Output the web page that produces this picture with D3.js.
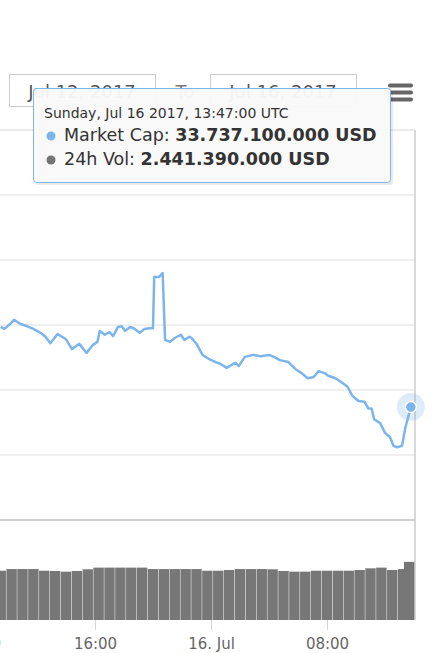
<!DOCTYPE html>
<html><head><meta charset="utf-8">
<script src="https://cdn.jsdelivr.net/npm/d3@7"></script>
<style>body{margin:0;background:#fff;overflow:hidden}svg{display:block;font-family:"DejaVu Sans",sans-serif}</style>
</head><body><svg id="c" width="435" height="653"></svg>
<script>
const capTimes=["2017-07-15 09:30","2017-07-15 09:45","2017-07-15 10:10","2017-07-15 10:25","2017-07-15 10:50","2017-07-15 11:20","2017-07-15 11:45","2017-07-15 12:15","2017-07-15 12:35","2017-07-15 12:55","2017-07-15 13:25","2017-07-15 14:00","2017-07-15 14:25","2017-07-15 14:55","2017-07-15 15:25","2017-07-15 15:50","2017-07-15 16:10","2017-07-15 16:20","2017-07-15 16:40","2017-07-15 17:00","2017-07-15 17:15","2017-07-15 17:35","2017-07-15 17:50","2017-07-15 18:05","2017-07-15 18:25","2017-07-15 18:40","2017-07-15 19:05","2017-07-15 19:25","2017-07-15 19:45","2017-07-15 20:00","2017-07-15 20:05","2017-07-15 20:25","2017-07-15 20:40","2017-07-15 20:50","2017-07-15 21:10","2017-07-15 21:30","2017-07-15 21:55","2017-07-15 22:10","2017-07-15 22:30","2017-07-15 22:40","2017-07-15 23:00","2017-07-15 23:25","2017-07-15 23:50","2017-07-16 00:20","2017-07-16 00:40","2017-07-16 01:05","2017-07-16 01:40","2017-07-16 01:55","2017-07-16 02:20","2017-07-16 02:55","2017-07-16 03:25","2017-07-16 04:00","2017-07-16 04:20","2017-07-16 04:45","2017-07-16 05:20","2017-07-16 05:50","2017-07-16 06:15","2017-07-16 06:40","2017-07-16 07:05","2017-07-16 07:25","2017-07-16 07:50","2017-07-16 08:05","2017-07-16 08:35","2017-07-16 09:00","2017-07-16 09:25","2017-07-16 09:45","2017-07-16 10:10","2017-07-16 10:35","2017-07-16 10:50","2017-07-16 11:05","2017-07-16 11:15","2017-07-16 11:40","2017-07-16 12:00","2017-07-16 12:20","2017-07-16 12:35","2017-07-16 12:50","2017-07-16 13:10","2017-07-16 13:25","2017-07-16 13:47"];
const capValues=[34.97,34.94,35.02,35.08,35.02,34.98,34.94,34.88,34.82,34.72,34.86,34.78,34.63,34.71,34.57,34.69,34.74,34.91,34.85,34.89,34.83,34.97,34.98,34.91,34.97,34.95,34.88,34.94,34.95,34.95,35.74,35.74,35.80,34.77,34.74,34.80,34.85,34.77,34.82,34.80,34.71,34.54,34.48,34.43,34.40,34.34,34.42,34.37,34.51,34.54,34.52,34.54,34.51,34.46,34.43,34.32,34.26,34.18,34.20,34.29,34.26,34.22,34.18,34.12,34.05,33.91,33.83,33.82,33.72,33.71,33.55,33.49,33.34,33.28,33.14,33.12,33.14,33.43,33.7371];
const volTimes=["2017-07-15 09:30","2017-07-15 10:15","2017-07-15 11:00","2017-07-15 11:45","2017-07-15 12:30","2017-07-15 13:15","2017-07-15 14:00","2017-07-15 14:45","2017-07-15 15:30","2017-07-15 16:15","2017-07-15 17:00","2017-07-15 17:45","2017-07-15 18:30","2017-07-15 19:15","2017-07-15 20:00","2017-07-15 20:45","2017-07-15 21:30","2017-07-15 22:15","2017-07-15 23:00","2017-07-15 23:45","2017-07-16 00:30","2017-07-16 01:15","2017-07-16 02:00","2017-07-16 02:45","2017-07-16 03:30","2017-07-16 04:15","2017-07-16 05:00","2017-07-16 05:45","2017-07-16 06:30","2017-07-16 07:15","2017-07-16 08:00","2017-07-16 08:45","2017-07-16 09:30","2017-07-16 10:15","2017-07-16 11:00","2017-07-16 11:45","2017-07-16 12:30","2017-07-16 13:15","2017-07-16 13:40"];
const volValues=[2.07,2.14,2.14,2.14,2.07,2.06,2.03,2.06,2.13,2.20,2.20,2.20,2.20,2.20,2.14,2.14,2.14,2.14,2.14,2.07,2.07,2.10,2.14,2.14,2.14,2.13,2.06,2.03,2.03,2.07,2.07,2.07,2.07,2.10,2.17,2.20,2.10,2.14,2.44139];
const gridValues=[37,36,35,34,33];
const tickTimes=["2017-07-15 08:00","2017-07-15 16:00","2017-07-16 00:00","2017-07-16 08:00"];
const tickLabels=["08:00","16:00","16. Jul","08:00"];
const tipLines=["Sunday, Jul 16 2017, 13:47:00 UTC"];

const P=d3.timeParse("%Y-%m-%d %H:%M");
const svg=d3.select("#c");
const R=415;
const x=d3.scaleTime().domain([P("2017-07-15 16:00"),P("2017-07-16 00:00")]).range([95,211]);
const y=d3.scaleLinear().domain([33,34]).range([455,390]);
const yv=d3.scaleLinear().domain([0,4.2]).range([620,520]);
const cap=capTimes.map((t,i)=>({t:P(t),v:capValues[i]}));
const vol=volTimes.map((t,i)=>({t:P(t),v:volValues[i]}));
const fmt=v=>d3.format(",")(Math.round(v*1e9)).replace(/,/g,".")+" USD";

svg.append("g").selectAll("line").data(gridValues.concat([32])).join("line")
 .attr("x1",0).attr("x2",R).attr("y1",d=>y(d)).attr("y2",d=>y(d))
 .attr("stroke",d=>d===32?"#cfcfcf":"#e0e0e0").attr("stroke-width",d=>d===32?2:1.2);
svg.append("line").attr("x1",0).attr("x2",R).attr("y1",y(38)).attr("y2",y(38)).attr("stroke","#d8d8d8").attr("stroke-width",1.2);
svg.append("line").attr("x1",R).attr("x2",R).attr("y1",y(38)).attr("y2",620).attr("stroke","#cccccc").attr("stroke-width",1.5);

svg.append("g").selectAll("rect").data(vol).join("rect")
 .attr("x",d=>x(d.t)-5.2).attr("width",d=>Math.max(2,Math.min(10.4,R-(x(d.t)-5.2))))
 .attr("y",d=>yv(d.v)).attr("height",d=>620-yv(d.v)).attr("fill","#777777");

svg.append("path").datum(cap).attr("fill","none").attr("stroke","#7cb5ec").attr("stroke-width",2.5)
 .attr("stroke-linejoin","round").attr("d",d3.line().x(d=>x(d.t)).y(d=>y(d.v)));
const last=cap[cap.length-1];
svg.append("circle").attr("cx",x(last.t)).attr("cy",y(last.v)).attr("r",14).attr("fill","rgba(124,181,236,0.25)");
svg.append("circle").attr("cx",x(last.t)).attr("cy",y(last.v)).attr("r",5.5).attr("fill","#7cb5ec").attr("stroke","#fff").attr("stroke-width",1.5);

const ax=svg.append("g").attr("transform","translate(0,620)")
 .call(d3.axisBottom(x).tickValues(tickTimes.map(P)).tickFormat((d,i)=>tickLabels[i]).tickSize(10).tickPadding(8));
ax.select(".domain").remove();
ax.selectAll("line").attr("stroke","#ccd6eb");
ax.selectAll("text").attr("fill","#666").attr("font-size",15).attr("font-family","DejaVu Sans");

[[9,"Jul 12, 2017"],[210,"Jul 16, 2017"]].forEach(([bx,t])=>{
 svg.append("rect").attr("x",bx+0.5).attr("y",74.5).attr("width",146).attr("height",32).attr("fill","#fff").attr("stroke","#cccccc");
 svg.append("text").attr("x",bx+73).attr("y",98).attr("text-anchor","middle").attr("font-size",18).attr("fill","#555").text(t);
});
svg.append("text").attr("x",185).attr("y",98).attr("text-anchor","middle").attr("font-size",18).attr("fill","#777").text("To");
[85,92,99].forEach(yy=>svg.append("rect").attr("x",388).attr("y",yy-1.5).attr("width",25).attr("height",4).attr("rx",2).attr("fill","#666"));

const tg=svg.append("g");
tg.append("rect").attr("x",35).attr("y",91).attr("width",358).attr("height",94).attr("rx",3).attr("fill","rgba(0,0,0,0.08)");
tg.append("rect").attr("x",33.5).attr("y",88.5).attr("width",357).attr("height",94).attr("rx",3).attr("fill","rgba(249,249,249,0.96)").attr("stroke","#7cb5ec");
tg.append("text").attr("x",44).attr("y",118).attr("font-size",14).attr("fill","#333").text(tipLines[0]);
const rows=[["#7cb5ec","Market Cap: ",fmt(last.v)],["#757575","24h Vol: ",fmt(volValues[volValues.length-1])]];
rows.forEach((r,i)=>{
 const yy=141+i*24;
 tg.append("circle").attr("cx",51).attr("cy",yy-5).attr("r",4.5).attr("fill",r[0]);
 const t=tg.append("text").attr("x",64).attr("y",yy).attr("font-size",17.5).attr("fill","#333");
 t.append("tspan").text(r[1]); t.append("tspan").attr("font-weight","bold").text(r[2]);
});
</script></body></html>
